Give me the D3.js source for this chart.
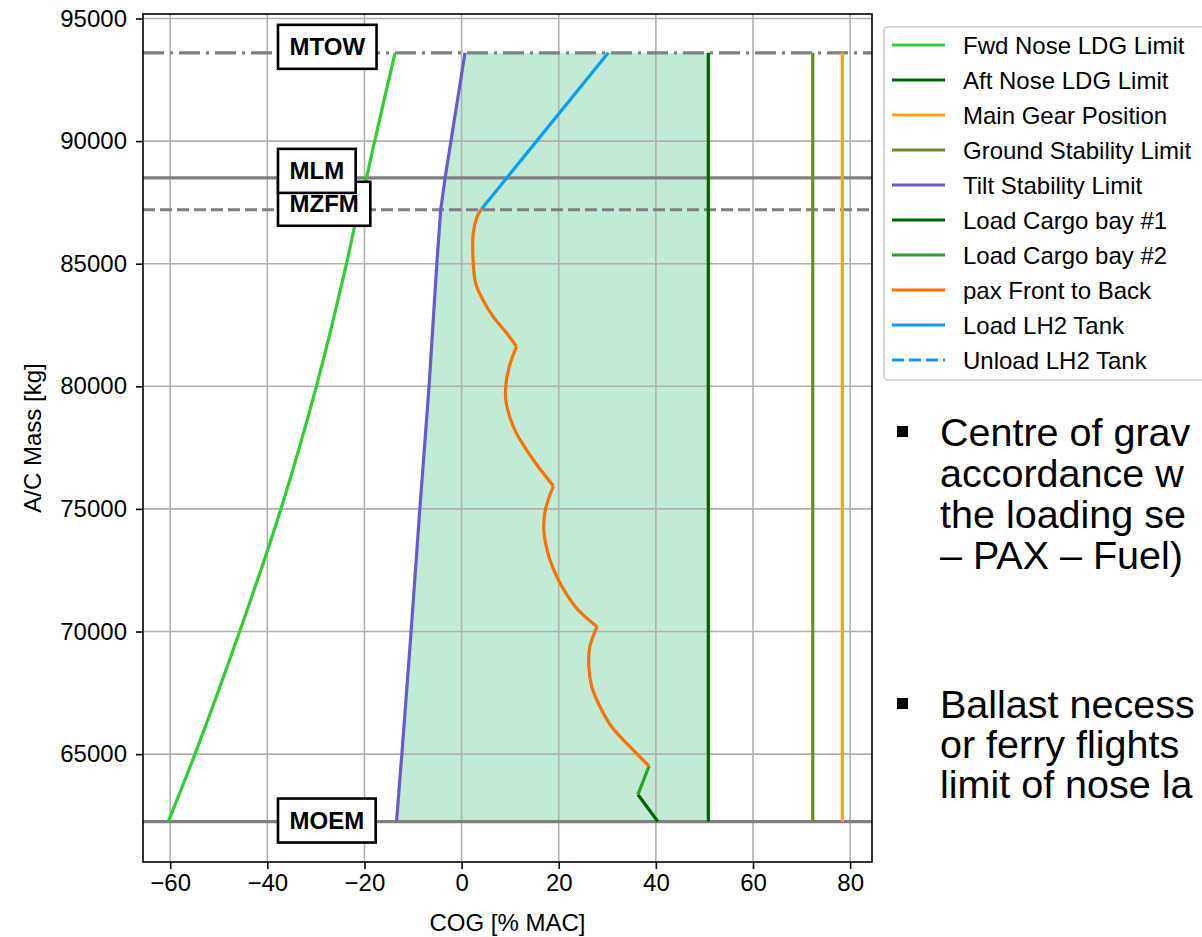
<!DOCTYPE html>
<html>
<head>
<meta charset="utf-8">
<script src="https://cdn.jsdelivr.net/npm/d3@7"></script>
<style>
  body { margin: 0; background: #fff; overflow: hidden; }
  svg { display: block; font-family: "Liberation Sans", Arial, sans-serif; }
</style>
</head>
<body>
<svg id="chart"></svg>
<script>
// ---- data ----
const xTicks = [-60, -40, -20, 0, 20, 40, 60, 80];
const yTicks = [65000, 70000, 75000, 80000, 85000, 90000, 95000];

const limitNames = ['MTOW', 'MLM', 'MZFM', 'MOEM'];
const limitMass  = [93600, 88500, 87200, 62250];

// [COG %MAC, mass kg]
const fwdNoseLdg = [[-60.4, 62250], [-54.9, 65000], [-45.7, 70000], [-37.2, 75000], [-29.9, 80000],
  [-23.7, 85000], [-21.3, 87200], [-19.6, 88500], [-17.9, 90000], [-13.7, 93600]];
const tiltLimit = [[-13.4, 62250], [-12.3, 65000], [-10.4, 70000], [-8.6, 75000], [-6.7, 80000],
  [-5.1, 85000], [-4.3, 87200], [-3.4, 88500], [0.7, 93600]];
const aftNoseLdgCog = 50.8;
const groundStabCog = 72.3;
const mainGearCog   = 78.4;

const cargoBay1 = [[40.4, 62250], [36.3, 63350]];
const cargoBay2 = [[36.3, 63350], [38.6, 64515]];
// passenger loading, one arc per cabin block
const paxArcs = [
  [[38.6, 64515], [36.0, 65030], [30.9, 66117], [28.5, 66933], [26.8, 67749], [26.2, 68564], [26.4, 69380], [27.9, 70196]],
  [[27.9, 70196], [24.0, 70877], [21.5, 71557], [19.6, 72236], [18.2, 72916], [17.3, 73596], [16.9, 74275], [17.3, 75010], [18.9, 75935]],
  [[18.9, 75935], [15.8, 76720], [13.4, 77400], [11.3, 78080], [9.9, 78760], [9.1, 79440], [9.1, 80025], [9.8, 80800], [11.3, 81620]],
  [[11.3, 81620], [9.3, 82160], [6.5, 82840], [4.4, 83520], [2.9, 84200], [2.4, 85040], [2.4, 86240], [3.2, 86920], [4.1, 87230]]
];
const lh2Load = [[4.1, 87230], [30.2, 93600]];

const legendLabels = ['Fwd Nose LDG Limit', 'Aft Nose LDG Limit', 'Main Gear Position', 'Ground Stability Limit',
  'Tilt Stability Limit', 'Load Cargo bay #1', 'Load Cargo bay #2', 'pax Front to Back', 'Load LH2 Tank', 'Unload LH2 Tank'];

// slide text, as far as it is visible
const bulletText1 = ['Centre of grav', 'accordance w', 'the loading se', '\u2013 PAX \u2013 Fuel)'];
const bulletText2 = ['Ballast necess', 'or ferry flights', 'limit of nose la'];

// ---- styles ----
const FONT = '"Liberation Sans", Arial, sans-serif';
const C = {
  fwd: '#32cd32', aft: '#006400', gear: '#ffa500', ground: '#6b8e23', tilt: '#6a5acd',
  cargo1: '#006400', cargo2: '#2ca02c', pax: '#ff7000', lh2: '#0a9ef5', limit: '#808080', grid: '#b0b0b0'
};
const legendColors = [C.fwd, C.aft, C.gear, C.ground, C.tilt, C.cargo1, C.cargo2, C.pax, C.lh2, C.lh2];
const limitDash = { MTOW: '21,6,3,6', MLM: null, MZFM: '12,5', MOEM: null };
const labelShift = { MTOW: -6, MLM: -7, MZFM: -6, MOEM: -1 };
const LW = 3.2;

const W = 1202, H = 937;
const box = { left: 143, right: 872, top: 14, bottom: 862 };

const svg = d3.select('#chart').attr('width', W).attr('height', H);

const x = d3.scaleLinear().domain([-65.6, 84.5]).range([box.left, box.right]);
const y = d3.scaleLinear().domain([60600, 95184]).range([box.bottom, box.top]);

svg.append('defs').append('clipPath').attr('id', 'plot')
  .append('rect').attr('x', box.left).attr('y', box.top)
  .attr('width', box.right - box.left).attr('height', box.bottom - box.top);

const plot = svg.append('g').attr('clip-path', 'url(#plot)');

// envelope fill between tilt limit and aft nose limit
plot.append('path').datum(tiltLimit)
  .attr('d', d3.area().y(d => y(d[1])).x0(d => x(d[0])).x1(x(aftNoseLdgCog)))
  .attr('fill', '#c1ebd4');

// grid
xTicks.forEach(t => plot.append('line').attr('x1', x(t)).attr('x2', x(t))
  .attr('y1', box.top).attr('y2', box.bottom).attr('stroke', C.grid).attr('stroke-width', 1.6));
yTicks.forEach(t => plot.append('line').attr('y1', y(t)).attr('y2', y(t))
  .attr('x1', box.left).attr('x2', box.right).attr('stroke', C.grid).attr('stroke-width', 1.6));

// mass limits
limitNames.forEach((n, i) => {
  plot.append('line').attr('x1', box.left).attr('x2', box.right)
    .attr('y1', y(limitMass[i])).attr('y2', y(limitMass[i]))
    .attr('stroke', C.limit).attr('stroke-width', LW)
    .attr('stroke-dasharray', limitDash[n]);
});

const line = d3.line().x(d => x(d[0])).y(d => y(d[1]));
const curved = d3.line().x(d => x(d[0])).y(d => y(d[1])).curve(d3.curveCatmullRom);
const mtow = limitMass[0], moem = limitMass[3];

function draw(pts, color, gen) {
  plot.append('path').datum(pts).attr('d', gen || line)
    .attr('fill', 'none').attr('stroke', color).attr('stroke-width', LW)
    .attr('stroke-linejoin', 'round');
}

draw(fwdNoseLdg, C.fwd, curved);
draw([[aftNoseLdgCog, moem], [aftNoseLdgCog, mtow]], C.aft);
draw([[mainGearCog, moem], [mainGearCog, mtow]], C.gear);
draw([[groundStabCog, moem], [groundStabCog, mtow]], C.ground);
draw(tiltLimit, C.tilt);
draw(cargoBay1, C.cargo1);
draw(cargoBay2, C.cargo2);
paxArcs.forEach(a => draw(a, C.pax, curved));
draw(lh2Load, C.lh2);

// axes
const gx = svg.append('g').attr('transform', `translate(0,${box.bottom})`)
  .call(d3.axisBottom(x).tickValues(xTicks).tickSize(7).tickPadding(5));
const gy = svg.append('g').attr('transform', `translate(${box.left},0)`)
  .call(d3.axisLeft(y).tickValues(yTicks).tickSize(7).tickPadding(9).tickFormat(d3.format('d')));
[gx, gy].forEach(g => {
  g.select('.domain').remove();
  g.attr('font-family', FONT).attr('font-size', 24);
  g.selectAll('line').attr('stroke', '#000').attr('stroke-width', 1.6);
  g.selectAll('text').attr('fill', '#000');
});

svg.append('rect').attr('x', box.left).attr('y', box.top)
  .attr('width', box.right - box.left).attr('height', box.bottom - box.top)
  .attr('fill', 'none').attr('stroke', '#000').attr('stroke-width', 1.6);

svg.append('text').attr('x', (box.left + box.right) / 2).attr('y', 931)
  .attr('text-anchor', 'middle').attr('font-size', 24).text('COG [% MAC]');
svg.append('text').attr('transform', `translate(41,${(box.top + box.bottom) / 2}) rotate(-90)`)
  .attr('text-anchor', 'middle').attr('font-size', 24).text('A/C Mass [kg]');

// boxed limit labels (MLM drawn last so it sits over MZFM)
['MTOW', 'MOEM', 'MZFM', 'MLM'].forEach(n => {
  const i = limitNames.indexOf(n);
  const cy = y(limitMass[i]) + labelShift[n];
  const g = svg.append('g');
  const r = g.append('rect');
  const t = g.append('text').attr('x', 278 + 11.5).attr('y', cy + 8.6)
    .attr('font-size', 24).attr('font-weight', 'bold').text(n);
  const w = t.node().getComputedTextLength() + 23;
  r.attr('x', 278).attr('y', cy - 22).attr('width', w).attr('height', 44)
    .attr('fill', '#fff').attr('stroke', '#000').attr('stroke-width', 2.6);
});

// legend
const lg = svg.append('g');
lg.append('rect').attr('x', 884).attr('y', 27).attr('width', 340).attr('height', 353)
  .attr('rx', 4).attr('fill', '#fff').attr('stroke', '#cccccc').attr('stroke-width', 1.6);
legendLabels.forEach((lab, i) => {
  const ly = 45 + 35 * i;
  lg.append('line').attr('x1', 892).attr('x2', 945).attr('y1', ly).attr('y2', ly)
    .attr('stroke', legendColors[i]).attr('stroke-width', LW)
    .attr('stroke-dasharray', i === 9 ? '12,5' : null);
  lg.append('text').attr('x', 963).attr('y', ly + 8.5).attr('font-size', 24).text(lab);
});

// slide text on the right
function bullets(lines, top, step) {
  svg.append('rect').attr('x', 897).attr('y', top - 20).attr('width', 11).attr('height', 11).attr('fill', '#000');
  lines.forEach((s, k) => svg.append('text').attr('x', 940).attr('y', top + step * k)
    .attr('font-size', 39.5).attr('fill', '#000').text(s));
}
bullets(bulletText1, 446, 41);
bullets(bulletText2, 718, 40);
</script>
</body>
</html>
